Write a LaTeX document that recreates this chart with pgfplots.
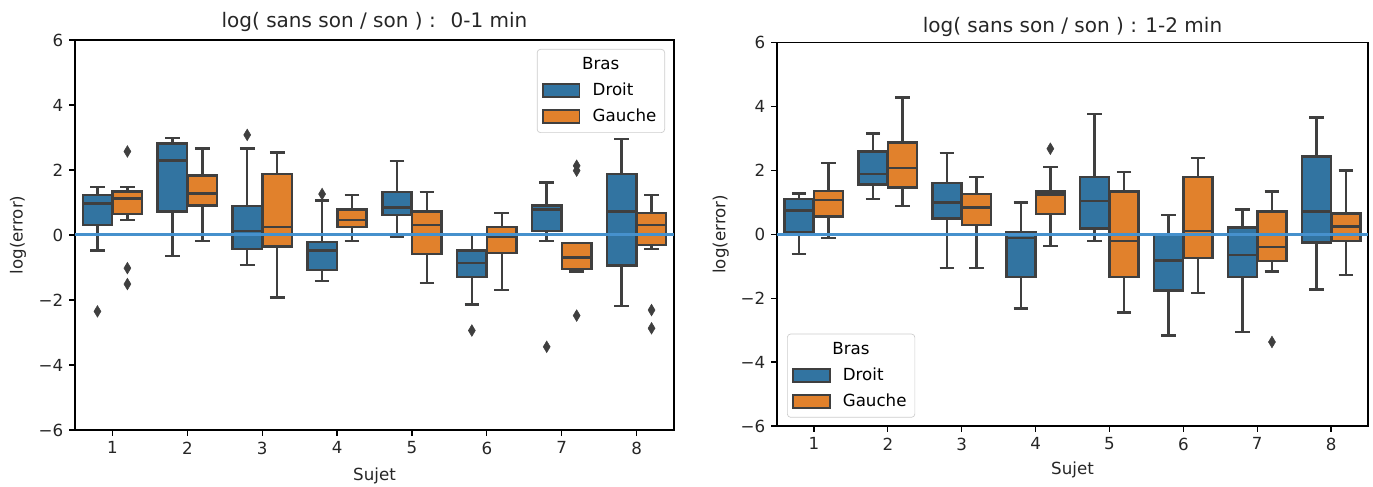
\documentclass[border=0pt]{standalone}
\usepackage{fontspec}
\setmainfont{DejaVu Sans}
\usepackage{pgfplots}
\pgfplotsset{compat=1.18}
\usepgfplotslibrary{statistics}
\definecolor{sbblue}{RGB}{50,116,161}
\definecolor{sborange}{RGB}{225,129,44}
\definecolor{sbgray}{RGB}{63,63,63}
\definecolor{zline}{RGB}{70,145,205}
\definecolor{legframe}{RGB}{204,204,204}
\pgfplotsset{
  bx/.style={boxplot prepared={draw direction=y, box extend=0.392, whisker extend=0.196, #1}, draw=sbgray, line width=1.5pt, mark=diamond*, mark size=3.5pt, mark options={fill=sbgray, draw=sbgray, line width=0.3pt, xscale=0.8}},
  leg/.style={legend image code/.code={\draw[sharp corners, fill=#1, draw=sbgray, line width=0.9pt] (0pt,-3.9pt) rectangle (22pt,3.9pt);}},
  sbaxis/.style={
    scale only axis,
    xmin=0.5, xmax=8.5, ymin=-6, ymax=6,
    xtick={1,2,3,4,5,6,7,8},
    ytick={-6,-4,-2,0,2,4,6},
    yticklabels={−6,−4,−2,0,2,4,6},
    xticklabels={1,2,3,4,5,6,7,8},
    tick align=outside, tick pos=left,
    major tick length=3.5pt,
    every tick/.style={black, line width=0.8pt},
    axis line style={black, line width=0.8pt},
    tick label style={font=\fontsize{10}{12}\selectfont, text=black!85},
    label style={font=\fontsize{10}{12}\selectfont, text=black!85},
    title style={font=\fontsize{12}{14}\selectfont, text=black!85, anchor=base, inner sep=0pt},
    xlabel={Sujet},
    ylabel={log(error)},
    legend cell align=left,
    legend style={font=\fontsize{10}{12}\selectfont, draw=legframe, rounded corners=2pt, fill=white, row sep=2.5pt, column sep=5.4pt, inner xsep=3pt, inner ysep=3pt},
  }
}
\begin{document}
\begin{tikzpicture}
\path[use as bounding box] (0,0) rectangle (823.8pt,291.6pt);
% ---------- left ----------
\begin{axis}[sbaxis, at={(45pt,33.6pt)}, anchor=south west, width=359.4pt, height=234pt,
  title={log( sans son / son ) :~ 0-1 min},
  title style={yshift=1.2pt},
  ylabel style={at={(rel axis cs:-0.095,0.5)}, anchor=center},
  xlabel style={at={(rel axis cs:0.5,0)}, anchor=center, yshift=-27.6pt},
  legend style={at={(rel axis cs:1,1)}, anchor=north east, xshift=-5.4pt, yshift=-5.4pt}]
\addlegendimage{empty legend}\addlegendentry{\hspace{-6.3pt}Bras}
\addlegendimage{leg=sbblue}\addlegendentry{Droit}
\addlegendimage{leg=sborange}\addlegendentry{Gauche\hspace{1.8pt}}
% subject 1
\addplot[bx={draw position=0.8, lower whisker=-0.48, lower quartile=0.31, median=0.97, upper quartile=1.23, upper whisker=1.47}, fill=sbblue] coordinates {(0,-2.35)};
\addplot[bx={draw position=1.2, lower whisker=0.46, lower quartile=0.65, median=1.13, upper quartile=1.34, upper whisker=1.47}, fill=sborange] coordinates {(0,2.57) (0,-1.02) (0,-1.51)};
% subject 2
\addplot[bx={draw position=1.8, lower whisker=-0.65, lower quartile=0.73, median=2.29, upper quartile=2.82, upper whisker=2.98}, fill=sbblue] coordinates {};
\addplot[bx={draw position=2.2, lower whisker=-0.19, lower quartile=0.91, median=1.28, upper quartile=1.83, upper whisker=2.66}, fill=sborange] coordinates {};
% subject 3
\addplot[bx={draw position=2.8, lower whisker=-0.92, lower quartile=-0.43, median=0.13, upper quartile=0.89, upper whisker=2.66}, fill=sbblue] coordinates {(0,3.08)};
\addplot[bx={draw position=3.2, lower whisker=-1.92, lower quartile=-0.36, median=0.24, upper quartile=1.88, upper whisker=2.54}, fill=sborange] coordinates {};
% subject 4
\addplot[bx={draw position=3.8, lower whisker=-1.41, lower quartile=-1.08, median=-0.48, upper quartile=-0.22, upper whisker=1.06}, fill=sbblue] coordinates {(0,1.26)};
\addplot[bx={draw position=4.2, lower whisker=-0.19, lower quartile=0.24, median=0.46, upper quartile=0.78, upper whisker=1.23}, fill=sborange] coordinates {};
% subject 5
\addplot[bx={draw position=4.8, lower whisker=-0.05, lower quartile=0.62, median=0.85, upper quartile=1.33, upper whisker=2.27}, fill=sbblue] coordinates {};
\addplot[bx={draw position=5.2, lower whisker=-1.48, lower quartile=-0.58, median=0.31, upper quartile=0.73, upper whisker=1.33}, fill=sborange] coordinates {};
% subject 6
\addplot[bx={draw position=5.8, lower whisker=-2.14, lower quartile=-1.30, median=-0.86, upper quartile=-0.48, upper whisker=0.02}, fill=sbblue] coordinates {(0,-2.94)};
\addplot[bx={draw position=6.2, lower whisker=-1.69, lower quartile=-0.56, median=-0.04, upper quartile=0.24, upper whisker=0.68}, fill=sborange] coordinates {};
% subject 7
\addplot[bx={draw position=6.8, lower whisker=-0.19, lower quartile=0.13, median=0.78, upper quartile=0.90, upper whisker=1.61}, fill=sbblue] coordinates {(0,-3.44)};
\addplot[bx={draw position=7.2, lower whisker=-1.12, lower quartile=-1.05, median=-0.69, upper quartile=-0.25, upper whisker=-0.25}, fill=sborange] coordinates {(0,2.13) (0,1.98) (0,-2.48)};
% subject 8
\addplot[bx={draw position=7.8, lower whisker=-2.18, lower quartile=-0.94, median=0.73, upper quartile=1.88, upper whisker=2.95}, fill=sbblue] coordinates {};
\addplot[bx={draw position=8.2, lower whisker=-0.43, lower quartile=-0.31, median=0.31, upper quartile=0.67, upper whisker=1.23}, fill=sborange] coordinates {(0,-2.31) (0,-2.87)};
\addplot[zline, line width=1.8pt] coordinates {(0.5,0) (8.5,0)};
\end{axis}
% ---------- right ----------
\begin{axis}[sbaxis, at={(466.2pt,36pt)}, anchor=south west, width=354.6pt, height=230pt,
  title={log( sans son / son ) : 1-2 min},
  title style={yshift=0pt},
  ylabel style={at={(rel axis cs:-0.095,0.5)}, anchor=center},
  xlabel style={at={(rel axis cs:0.5,0)}, anchor=center, yshift=-26.4pt},
  legend style={at={(rel axis cs:0,0)}, anchor=south west, xshift=6pt, yshift=5pt}]
\addlegendimage{empty legend}\addlegendentry{\hspace{-6.3pt}Bras}
\addlegendimage{leg=sbblue}\addlegendentry{Droit}
\addlegendimage{leg=sborange}\addlegendentry{Gauche\hspace{1.8pt}}
% subject 1
\addplot[bx={draw position=0.8, lower whisker=-0.61, lower quartile=0.07, median=0.74, upper quartile=1.11, upper whisker=1.28}, fill=sbblue] coordinates {};
\addplot[bx={draw position=1.2, lower whisker=-0.11, lower quartile=0.56, median=1.07, upper quartile=1.35, upper whisker=2.23}, fill=sborange] coordinates {};
% subject 2
\addplot[bx={draw position=1.8, lower whisker=1.11, lower quartile=1.56, median=1.89, upper quartile=2.60, upper whisker=3.16}, fill=sbblue] coordinates {};
\addplot[bx={draw position=2.2, lower whisker=0.89, lower quartile=1.47, median=2.07, upper quartile=2.87, upper whisker=4.28}, fill=sborange] coordinates {};
% subject 3
\addplot[bx={draw position=2.8, lower whisker=-1.05, lower quartile=0.49, median=1.00, upper quartile=1.60, upper whisker=2.55}, fill=sbblue] coordinates {};
\addplot[bx={draw position=3.2, lower whisker=-1.05, lower quartile=0.29, median=0.84, upper quartile=1.26, upper whisker=1.79}, fill=sborange] coordinates {};
% subject 4
\addplot[bx={draw position=3.8, lower whisker=-2.32, lower quartile=-1.34, median=-0.11, upper quartile=0.05, upper whisker=1.00}, fill=sbblue] coordinates {};
\addplot[bx={draw position=4.2, lower whisker=-0.37, lower quartile=0.63, median=1.24, upper quartile=1.34, upper whisker=2.11}, fill=sborange] coordinates {(0,2.68)};
% subject 5
\addplot[bx={draw position=4.8, lower whisker=-0.21, lower quartile=0.19, median=1.05, upper quartile=1.79, upper whisker=3.77}, fill=sbblue] coordinates {};
\addplot[bx={draw position=5.2, lower whisker=-2.44, lower quartile=-1.34, median=-0.21, upper quartile=1.34, upper whisker=1.95}, fill=sborange] coordinates {};
% subject 6
\addplot[bx={draw position=5.8, lower whisker=-3.16, lower quartile=-1.76, median=-0.82, upper quartile=0.0, upper whisker=0.61}, fill=sbblue] coordinates {};
\addplot[bx={draw position=6.2, lower whisker=-1.84, lower quartile=-0.74, median=0.11, upper quartile=1.79, upper whisker=2.39}, fill=sborange] coordinates {};
% subject 7
\addplot[bx={draw position=6.8, lower whisker=-3.05, lower quartile=-1.34, median=-0.65, upper quartile=0.21, upper whisker=0.77}, fill=sbblue] coordinates {};
\addplot[bx={draw position=7.2, lower whisker=-1.16, lower quartile=-0.84, median=-0.39, upper quartile=0.71, upper whisker=1.34}, fill=sborange] coordinates {(0,-3.37)};
% subject 8
\addplot[bx={draw position=7.8, lower whisker=-1.72, lower quartile=-0.26, median=0.72, upper quartile=2.44, upper whisker=3.66}, fill=sbblue] coordinates {};
\addplot[bx={draw position=8.2, lower whisker=-1.28, lower quartile=-0.21, median=0.24, upper quartile=0.65, upper whisker=2.00}, fill=sborange] coordinates {};
\addplot[zline, line width=1.8pt] coordinates {(0.5,0) (8.5,0)};
\end{axis}
\end{tikzpicture}
\end{document}
